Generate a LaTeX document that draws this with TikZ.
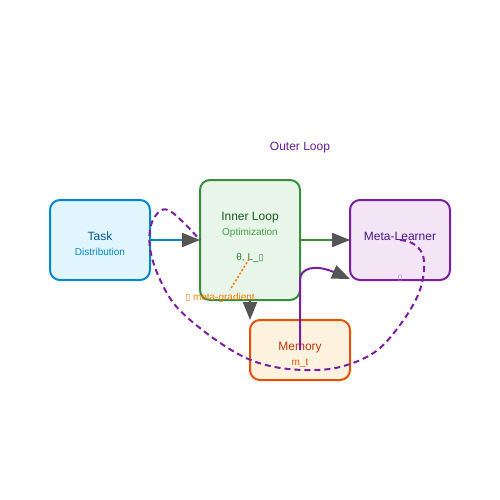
\documentclass[tikz,border=0pt]{standalone}
\usepackage{fontspec}
\setmainfont{Liberation Sans}
\newfontfamily\symfont{DejaVu Sans}
\usetikzlibrary{arrows.meta}
\definecolor{taskfill}{HTML}{E1F5FE}\definecolor{taskline}{HTML}{0288D1}\definecolor{taskdark}{HTML}{01579B}
\definecolor{innfill}{HTML}{E8F5E9}\definecolor{innline}{HTML}{388E3C}\definecolor{inndark}{HTML}{1B5E20}\definecolor{innmid}{HTML}{43A047}\definecolor{innsym}{HTML}{2E7D32}
\definecolor{metafill}{HTML}{F3E5F5}\definecolor{metaline}{HTML}{7B1FA2}\definecolor{metadark}{HTML}{4A148C}\definecolor{metasoft}{HTML}{BA68C8}
\definecolor{memfill}{HTML}{FFF3E0}\definecolor{memline}{HTML}{E65100}\definecolor{memdark}{HTML}{BF360C}
\definecolor{grad}{HTML}{F57C00}\definecolor{tipgray}{HTML}{555555}\definecolor{outer}{HTML}{6A1B9A}
\newcommand{\tofu}{{\symfont\fontsize{9}{10}\selectfont ▯}}
\tikzset{
  box/.style={draw, line width=2pt, rounded corners=10pt, inner sep=0pt},
  big/.style={font=\fontsize{12}{14}\selectfont, anchor=base, inner sep=0pt},
  small/.style={font=\fontsize{10}{12}\selectfont, anchor=base, inner sep=0pt},
  conn/.style={line width=2pt, -{Triangle[length=18pt,width=14pt,fill=tipgray,color=tipgray]}},
}
\begin{document}
\begin{tikzpicture}[x=1pt,y=-1pt]
\useasboundingbox (0,0) rectangle (500,500);
% boxes
\node[box, draw=taskline, fill=taskfill, minimum width=100pt, minimum height=80pt] (task) at (100,240) {};
\node[box, draw=innline, fill=innfill, minimum width=100pt, minimum height=120pt] (inner) at (250,240) {};
\node[box, draw=metaline, fill=metafill, minimum width=100pt, minimum height=80pt] (meta) at (400,240) {};
\node[box, draw=memline, fill=memfill, minimum width=100pt, minimum height=60pt] (mem) at (300,350) {};
% texts
\node[big, text=taskdark] (tasklbl) at (100,240) {Task};
\node[small, text=taskline] (tasksub) at (100,255) {Distribution};
\node[big, text=inndark] (innlbl) at (250,220) {Inner Loop};
\node[small, text=innmid] (innsub) at (250,235) {Optimization};
\node[small, text=innsym] (innsym) at (250,260) {θ, L\_\tofu};
\node[big, text=metadark] (metalbl) at (400,240) {Meta-Learner};
\node[small, text=metasoft, font=\symfont\fontsize{8}{9}\selectfont] (metasym) at (400,280) {▯};
\node[big, text=memdark] (memlbl) at (300,350) {Memory};
\node[small, text=memline] (memsub) at (300,365) {m\_t};
\node[big, text=outer] (outerlbl) at (300,150) {Outer Loop};
% connectors
\coordinate (t1) at (150,240); \coordinate (i1) at (200,240);
\coordinate (i2) at (300,240); \coordinate (m1) at (350,240);
\coordinate (i3) at (250,300); \coordinate (me1) at (250,320);
\coordinate (me2) at (300,350); \coordinate (m2) at (350,279);
\draw[conn, draw=taskline] (t1) -- (i1);
\draw[conn, draw=innline] (i2) -- (m1);
\draw[conn, draw=tipgray] (i3) -- (me1);
\draw[conn, draw=metaline] (me2) -- (300,280) .. controls (300,268) and (315,264) .. (m2);
% dashed outer loop
\draw[metaline, line width=2pt, dash pattern=on 6pt off 4pt] plot[smooth, tension=0.6] coordinates {(400,240) (412,243) (422,253) (424,270) (418,295) (400,325) (375,352) (340,367) (305,370) (270,366) (240,355) (205,332) (175,305) (158,275) (150,248) (151,225) (160,211) (170,211) (185,224) (200,240)};
% meta-gradient
\coordinate (g1) at (249,259); \coordinate (g2) at (230,290);
\draw[grad, line width=1.5pt, dash pattern=on 2pt off 2pt] (g1) -- (g2);
\node[small, text=grad] (gradlbl) at (220,300) {\tofu\ meta-gradient};
\end{tikzpicture}
\end{document}
